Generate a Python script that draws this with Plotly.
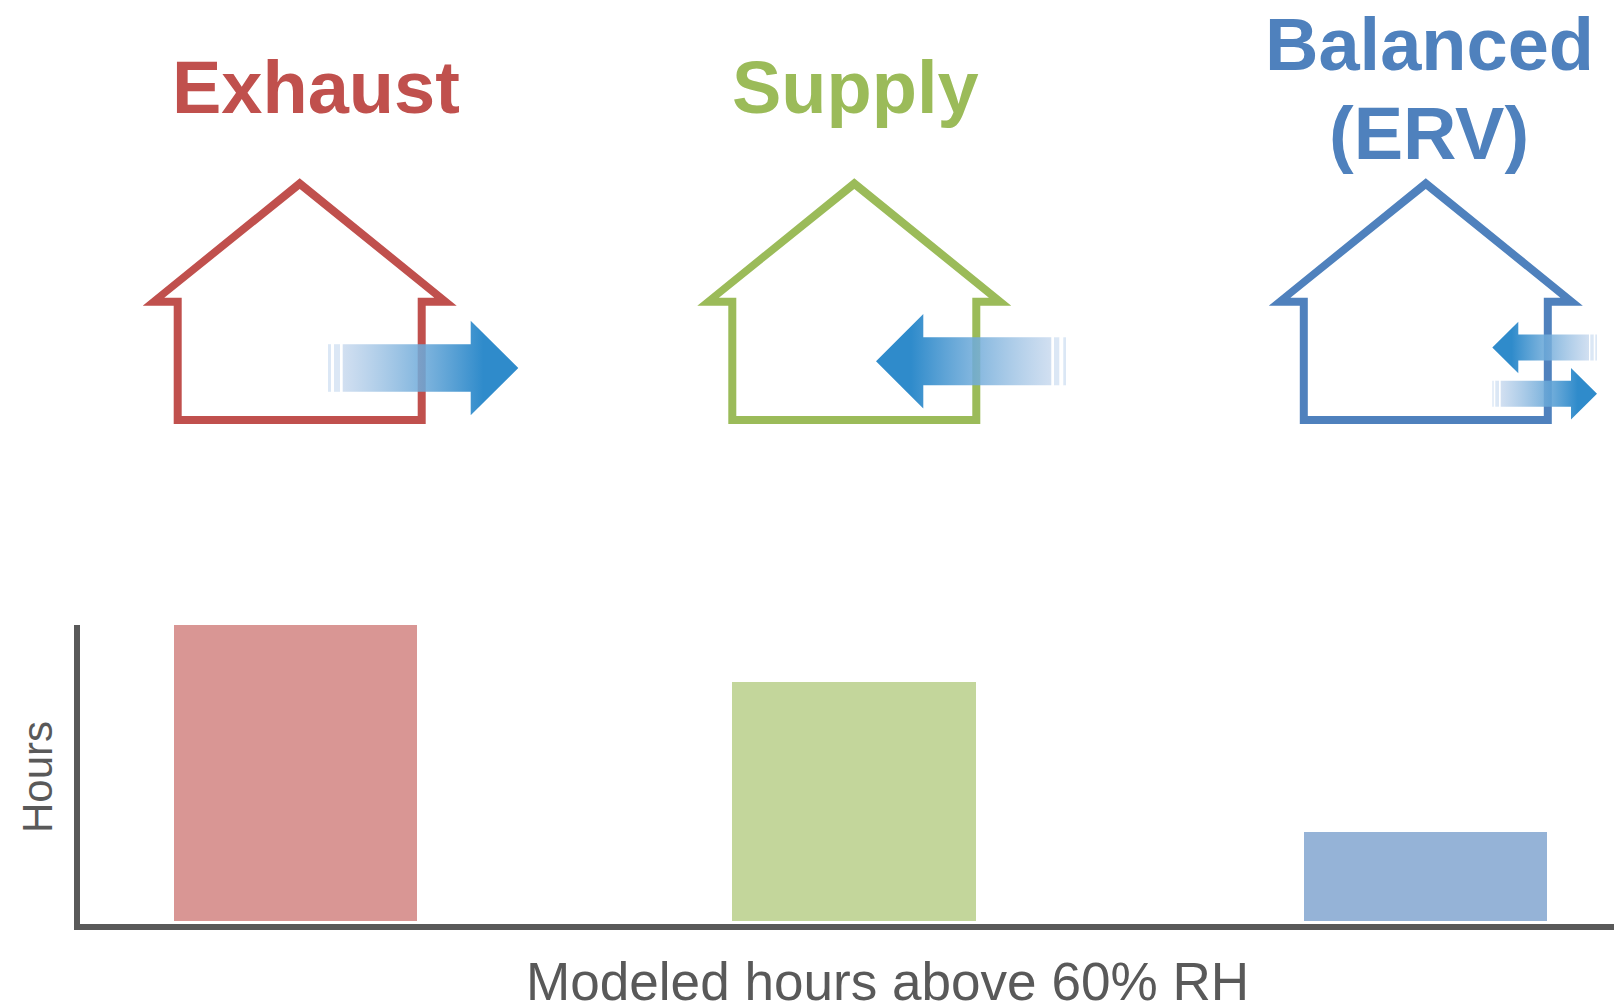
import plotly.graph_objects as go

W, H = 1614, 1005

# Chart values
systems = ["Exhaust", "Supply", "Balanced (ERV)"]
hours = [100, 80.7, 30.1]
bar_colors = ["#d99694", "#c3d69b", "#95b3d7"]
line_colors = ["#c0504d", "#9bbb59", "#4f81bd"]

# Horizontal layout of the three columns, in page pixels
bar_centers = [295.5, 854, 1425.5]
bar_width = 243.5
house_centers = [299.7, 854.3, 1425.8]

TEXT_GREY = "#595959"
FONT = "Liberation Sans"
ARROW_SOLID = "rgba(47,139,203,1)"
ARROW_FADED = "rgba(190,210,235,0.7)"
STRIP_FILL = "rgba(200,218,240,0.65)"

PLOT_L, PLOT_T, PLOT_B = 80, 625, 924
BAR_FLOOR_GAP = 3
UNITS_PER_PX = 100 / 296

fig = go.Figure()

fig.add_trace(go.Bar(
    x=bar_centers, y=hours, width=bar_width,
    marker=dict(color=bar_colors, line_width=0),
    customdata=systems, showlegend=False,
    hovertemplate="%{customdata}: %{y}<extra></extra>",
))


def house_path(cx):
    """Outline of a house as an outer contour with a reversed inner contour."""
    top, eave_o, eave_i, base_o, base_i = 178.3, 305.7, 297.7, 424, 416
    outer = [(cx, top), (cx + 157, eave_o), (cx + 126, eave_o), (cx + 126, base_o),
             (cx - 126, base_o), (cx - 126, eave_o), (cx - 157, eave_o)]
    inner = [(cx, 189), (cx - 135.4, eave_i), (cx - 118, eave_i), (cx - 118, base_i),
             (cx + 118, base_i), (cx + 118, eave_i), (cx + 134.6, eave_i)]
    xs = [p[0] for p in outer] + [outer[0][0], None] + [p[0] for p in inner] + [inner[0][0]]
    ys = [p[1] for p in outer] + [outer[0][1], None] + [p[1] for p in inner] + [inner[0][1]]
    return xs, ys


for cx, color, name in zip(house_centers, line_colors, systems):
    xs, ys = house_path(cx)
    fig.add_trace(go.Scatter(
        x=xs, y=ys, xaxis="x2", yaxis="y2", mode="lines",
        line=dict(width=0), fill="toself", fillcolor=color,
        name=name, showlegend=False, hoverinfo="skip",
    ))


def add_arrow(tail, head_base, tip, mid_y, shaft_half, head_half, strips):
    """Fading block arrow from tail to tip, with broken strips behind the tail."""
    points = [(tail, mid_y - shaft_half), (head_base, mid_y - shaft_half),
              (head_base, mid_y - head_half), (tip, mid_y),
              (head_base, mid_y + head_half), (head_base, mid_y + shaft_half),
              (tail, mid_y + shaft_half), (tail, mid_y - shaft_half)]
    if tip > tail:
        scale = [[0, ARROW_FADED], [0.8, ARROW_SOLID], [1, ARROW_SOLID]]
    else:
        scale = [[0, ARROW_SOLID], [0.2, ARROW_SOLID], [1, ARROW_FADED]]
    fig.add_trace(go.Scatter(
        x=[p[0] for p in points], y=[p[1] for p in points],
        xaxis="x2", yaxis="y2", mode="lines", line=dict(width=0),
        fill="toself", fillcolor=ARROW_SOLID,
        fillgradient=dict(type="horizontal", colorscale=scale),
        showlegend=False, hoverinfo="skip",
    ))
    for x0, x1 in strips:
        fig.add_trace(go.Scatter(
            x=[x0, x1, x1, x0, x0],
            y=[mid_y - shaft_half, mid_y - shaft_half, mid_y + shaft_half,
               mid_y + shaft_half, mid_y - shaft_half],
            xaxis="x2", yaxis="y2", mode="lines", line=dict(width=0),
            fill="toself", fillcolor=STRIP_FILL,
            showlegend=False, hoverinfo="skip",
        ))


add_arrow(342.7, 470.7, 518.3, 368, 23.8, 47.3, [(328, 331), (334, 340)])
add_arrow(1051.3, 923.3, 876, 361.3, 24, 47.3, [(1054, 1059.3), (1063.3, 1066)])
add_arrow(1589, 1518.3, 1492.3, 347.5, 13, 25.8, [(1590.3, 1593.7), (1595.3, 1597)])
add_arrow(1500.7, 1571, 1597, 393.7, 13, 25.7, [(1492.3, 1493.7), (1495.3, 1499)])


def page_text(text, x, y, size, color, bold=False, angle=0):
    fig.add_annotation(
        text=f"<b>{text}</b>" if bold else text,
        x=x / W, y=1 - y / H, xref="paper", yref="paper",
        xanchor="center", yanchor="middle", showarrow=False, textangle=angle,
        font=dict(family=FONT, size=size, color=color),
    )


page_text("Exhaust", 316, 88, 74, line_colors[0], bold=True)
page_text("Supply", 855.5, 88, 74, line_colors[1], bold=True)
page_text("Balanced", 1429, 44, 74, line_colors[2], bold=True)
page_text("(ERV)", 1429, 134, 74, line_colors[2], bold=True)
page_text("Modeled hours above 60% RH", 887.5, 981, 53.1, TEXT_GREY)
page_text("Hours", 37, 777, 42, TEXT_GREY, angle=-90)

axis_line = dict(showline=True, linecolor=TEXT_GREY, linewidth=6, showgrid=False,
                 zeroline=False, showticklabels=False, ticks="", fixedrange=True)

fig.update_layout(
    width=W, height=H, autosize=False,
    margin=dict(l=0, r=0, t=0, b=0),
    paper_bgcolor="white", plot_bgcolor="rgba(0,0,0,0)",
    showlegend=False, bargap=0,
    xaxis=dict(domain=[PLOT_L / W, 1], range=[PLOT_L, W], **axis_line),
    yaxis=dict(domain=[1 - PLOT_B / H, 1 - PLOT_T / H],
               range=[-BAR_FLOOR_GAP * UNITS_PER_PX, 100], **axis_line),
    # Full-page pixel axes for the house outlines and arrows
    xaxis2=dict(domain=[0, 1], range=[0, W], anchor="y2", visible=False, fixedrange=True),
    yaxis2=dict(domain=[0, 1], range=[H, 0], anchor="x2", visible=False, fixedrange=True),
)

fig.write_html("out.html", config=dict(displayModeBar=False))
